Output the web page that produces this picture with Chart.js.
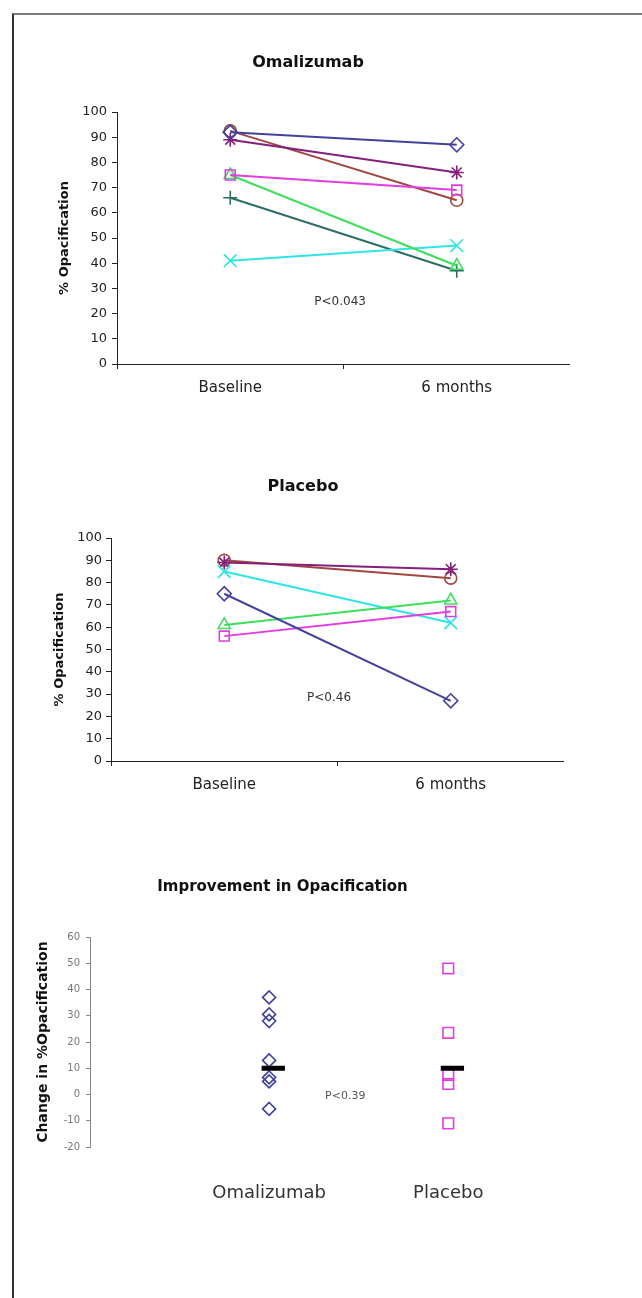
<!DOCTYPE html>
<html>
<head>
<meta charset="utf-8">
<title>Opacification</title>
<script src="https://cdn.jsdelivr.net/npm/chart.js@4.4.1/dist/chart.umd.min.js"></script>
<style>
  body { margin: 0; background: #fff; width: 642px; height: 1298px; position: relative; overflow: hidden; }
  #frame { position: absolute; left: 12px; top: 13px; right: 0; bottom: 0; border-top: 2px solid #7a7a7a; border-left: 2px solid #333; }
  .box { position: absolute; }
  canvas { display: block; }
</style>
</head>
<body>
<div id="frame"></div>
<div class="box" style="left:46px;top:20px"><canvas id="chart-omalizumab" width="524" height="390"></canvas></div>
<div class="box" style="left:42px;top:440px"><canvas id="chart-placebo" width="522" height="380"></canvas></div>
<div class="box" style="left:20px;top:850px"><canvas id="chart-change" width="525" height="400"></canvas></div>

<script>
// ---- data
const timepoints = ['Baseline', '6 months'];

const omaDiamond  = [92, 87];
const omaSquare   = [75, 69];
const omaTriangle = [75, 39];
const omaCross    = [41, 47];
const omaStar     = [89, 76];
const omaCircle   = [92.5, 65];
const omaPlus     = [66, 37];

const plaDiamond  = [75, 27];
const plaSquare   = [56, 67];
const plaTriangle = [61, 72];
const plaCross    = [85, 62];
const plaStar     = [89, 86];
const plaCircle   = [90, 82];

const groups = ['Omalizumab', 'Placebo'];
const groupX = [1, 2];
const omaChange = [37, 30.5, 28, 13, 6.5, 5, -5.5];
const plaChange = [48, 23.5, 7.5, 4, -11];
const meanChange = [10, 10];

// ---- styles
const NAVY = '#42429e', MAGENTA = '#e23ce2', GREEN = '#3ede5c', CYAN = '#2ee4e4';
const PURPLE = '#84207c', BROWN = '#a04840', TEAL = '#2e6c66';

Chart.defaults.font.family = '"DejaVu Sans", "Liberation Sans", sans-serif';
Chart.defaults.color = '#222';
// markers may overhang the plot edge, don't shrink the plot for them
Chart.defaults.layout.autoPadding = false;

// draws the p-value note at a position given in axis units
const pValueLabel = {
    id: 'pValue',
    afterDatasetsDraw(chart, args, opts) {
        const ctx = chart.ctx;
        ctx.save();
        ctx.font = opts.font;
        ctx.fillStyle = opts.color;
        ctx.textAlign = 'center';
        ctx.textBaseline = 'middle';
        ctx.fillText(opts.text, chart.scales.x.getPixelForValue(opts.x), chart.scales.y.getPixelForValue(opts.y));
        ctx.restore();
    }
};

function fixHeight(h) {
    return function(s) { s.height = h; };
}

function series(label, values, style, color, radius) {
    return {
        label: label,
        data: values,
        borderColor: color,
        borderWidth: 2,
        pointStyle: style,
        pointRadius: radius,
        pointBorderColor: color,
        pointBorderWidth: 1.6,
        pointBackgroundColor: 'rgba(0,0,0,0)'
    };
}

function opacificationChart(id, title, datasets, lay, pNote) {
    return new Chart(document.getElementById(id), {
        type: 'line',
        data: { labels: timepoints, datasets: datasets },
        options: {
            responsive: false,
            animation: false,
            events: [],
            plugins: {
                legend: { display: false },
                tooltip: { enabled: false },
                title: {
                    display: true, text: title, color: '#111',
                    font: { size: 16, weight: 'bold' },
                    padding: { top: lay.titleTop, bottom: lay.titleBottom }
                },
                pValue: pNote
            },
            scales: {
                x: {
                    offset: true,
                    grid: { offset: true, drawOnChartArea: false, tickLength: 5, color: '#222' },
                    border: { color: '#222' },
                    ticks: { padding: 10, color: '#222', font: { size: 15 } },
                    afterFit: fixHeight(lay.xHeight)
                },
                y: {
                    min: 0, max: 100,
                    grid: { drawOnChartArea: false, tickLength: 5, color: '#222' },
                    border: { color: '#222' },
                    ticks: { stepSize: 10, padding: lay.tickPad, color: '#222', font: { size: 13 } },
                    title: {
                        display: true, text: '% Opacification', color: '#111',
                        font: { size: 13, weight: 'bold' },
                        padding: { top: lay.yTitlePad, bottom: 0 }
                    },
                    afterFit: function(s) { s.width = lay.yWidth; }
                }
            }
        },
        plugins: [pValueLabel]
    });
}

opacificationChart('chart-omalizumab', 'Omalizumab', [
    series('Patient 1', omaDiamond, 'rectRot', NAVY, 7),
    series('Patient 2', omaSquare, 'rect', MAGENTA, 7),
    series('Patient 3', omaTriangle, 'triangle', GREEN, 7),
    series('Patient 4', omaCross, 'crossRot', CYAN, 9),
    series('Patient 5', omaStar, 'star', PURPLE, 7),
    series('Patient 6', omaCircle, 'circle', BROWN, 6),
    series('Patient 7', omaPlus, 'cross', TEAL, 7)
], { titleTop: 33.4, titleBottom: 39.4, xHeight: 46, yWidth: 71, yTitlePad: 11.2, tickPad: 5 },
   { text: 'P<0.043', x: 0.485, y: 24.7, font: '12px "DejaVu Sans"', color: '#333' });

opacificationChart('chart-placebo', 'Placebo', [
    series('Patient 1', plaDiamond, 'rectRot', NAVY, 7),
    series('Patient 2', plaSquare, 'rect', MAGENTA, 7),
    series('Patient 3', plaTriangle, 'triangle', GREEN, 7),
    series('Patient 4', plaCross, 'crossRot', CYAN, 9),
    series('Patient 5', plaStar, 'star', PURPLE, 7),
    series('Patient 6', plaCircle, 'circle', BROWN, 6)
], { titleTop: 37.4, titleBottom: 41.4, xHeight: 59, yWidth: 69, yTitlePad: 10.2, tickPad: 4 },
   { text: 'P<0.46', x: 0.4625, y: 28.4, font: '12px "DejaVu Sans"', color: '#333' });

// ---- improvement chart
const barFrom = -0.042, barTo = 0.088;

function meanBar(i) {
    return {
        data: [{ x: groupX[i] + barFrom, y: meanChange[i] }, { x: groupX[i] + barTo, y: meanChange[i] }],
        showLine: true, borderColor: '#000', borderWidth: 5, pointRadius: 0
    };
}

new Chart(document.getElementById('chart-change'), {
    type: 'scatter',
    data: {
        datasets: [
            meanBar(0),
            meanBar(1),
            {
                label: groups[0], data: omaChange.map(v => ({ x: groupX[0], y: v })),
                pointStyle: 'rectRot', pointRadius: 6.5, pointBorderWidth: 1.6,
                borderColor: NAVY, backgroundColor: 'rgba(0,0,0,0)'
            },
            {
                label: groups[1], data: plaChange.map(v => ({ x: groupX[1], y: v })),
                pointStyle: 'rect', pointRadius: 7.5, pointBorderWidth: 1.6,
                borderColor: MAGENTA, backgroundColor: 'rgba(0,0,0,0)'
            }
        ]
    },
    options: {
        responsive: false,
        animation: false,
        events: [],
        plugins: {
            legend: { display: false },
            tooltip: { enabled: false },
            title: {
                display: true, text: 'Improvement in Opacification', color: '#111',
                font: { size: 15, weight: 'bold' },
                padding: { top: 28, bottom: 41 }
            },
            pValue: { text: 'P<0.39', x: 1.425, y: -0.8, font: '11px "DejaVu Sans"', color: '#555' }
        },
        scales: {
            x: {
                type: 'linear', min: 0, max: 2.54,
                grid: { display: false, drawTicks: false },
                border: { display: false },
                afterBuildTicks: function(s) { s.ticks = groupX.map(v => ({ value: v })); },
                ticks: {
                    autoSkip: false, maxRotation: 0, padding: 36, color: '#333', font: { size: 18 },
                    callback: function(v) { return groups[groupX.indexOf(v)]; }
                },
                afterFit: fixHeight(103)
            },
            y: {
                min: -20, max: 60,
                grid: { drawOnChartArea: false, tickLength: 4, color: '#888' },
                border: { color: '#888' },
                ticks: { stepSize: 10, padding: 6, color: '#777', font: { size: 10 } },
                title: {
                    display: true, text: 'Change in %Opacification', color: '#111',
                    font: { size: 14, weight: 'bold' },
                    padding: { top: 14.6, bottom: 0 }
                },
                afterFit: function(s) { s.width = 70; }
            }
        }
    },
    plugins: [pValueLabel]
});
</script>
</body>
</html>
